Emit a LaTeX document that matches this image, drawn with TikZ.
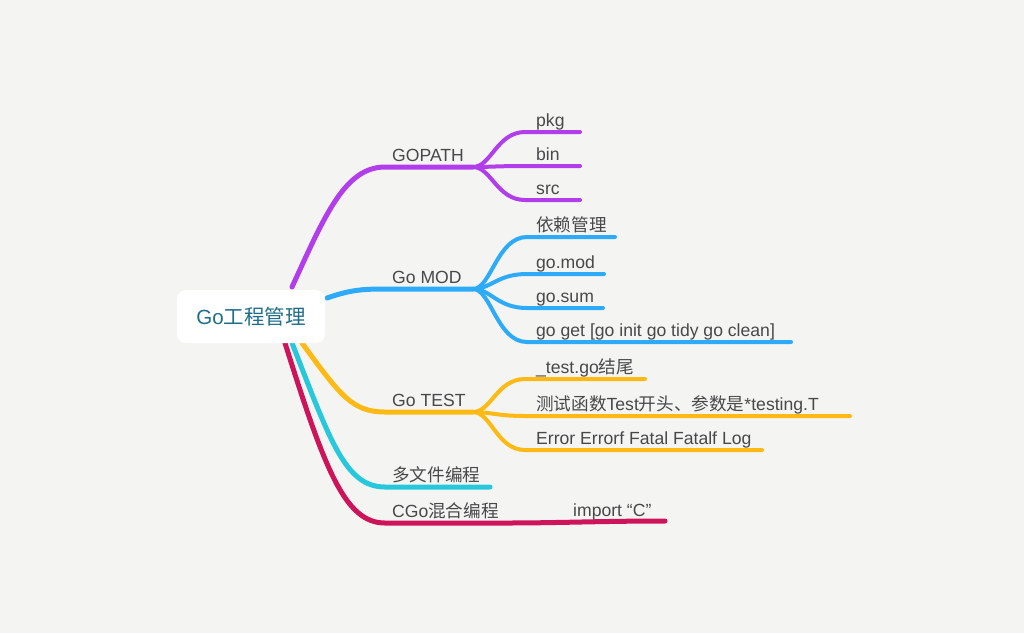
\documentclass[tikz,border=0pt]{standalone}
\usepackage{fontspec}
\setmainfont{Liberation Sans}
\newfontfamily\cjk{Noto Sans CJK SC}
\definecolor{bgc}{HTML}{F4F5F3}
\definecolor{cpur}{HTML}{B13DEB}
\definecolor{cblu}{HTML}{2DAAF8}
\definecolor{cyel}{HTML}{FDB914}
\definecolor{ccya}{HTML}{28C8DC}
\definecolor{ccri}{HTML}{CD145A}
\definecolor{txt}{HTML}{484848}
\definecolor{roottxt}{HTML}{1F6E88}
\begin{document}
\begin{tikzpicture}[x=1pt,y=-1pt,
  mainln/.style={line width=5pt,line cap=round},
  subln/.style={line width=4pt,line cap=round},
  lbl/.style={anchor=base west,inner sep=0pt,text=txt,font=\fontsize{17.6}{20}\selectfont},
  rootbox/.style={fill=white,rounded corners=9pt,minimum width=148pt,minimum height=53pt,inner sep=0pt,text=roottxt,font=\fontsize{20.5}{24}\selectfont}]
\fill[bgc] (0,0) rectangle (1024,633);
\useasboundingbox (0,0) rectangle (1024,633);
% branch points
\coordinate (rP) at (292,287);
\coordinate (rB) at (327,298);
\coordinate (rY) at (302,343);
\coordinate (rC) at (292,343);
\coordinate (rR) at (285,343);
\coordinate (bpP) at (473,167);
\coordinate (bpB) at (473,289);
\coordinate (bpY) at (473,412);
\coordinate (eC) at (490,487);
\coordinate (bpR) at (505,523);
% purple
\draw[mainln,cpur] (rP) .. controls (325,215) and (345,167) .. (385,167) -- (bpP);
\coordinate (pkgS) at (525,132); \coordinate (pkgE) at (580,132);
\coordinate (binS) at (525,166); \coordinate (binE) at (580,166);
\coordinate (srcS) at (525,200); \coordinate (srcE) at (580,200);
\draw[subln,cpur] (bpP) .. controls +(18,0) and +(-28,0) .. (pkgS) -- (pkgE);
\draw[subln,cpur] (bpP) .. controls +(18,0) and +(-28,0) .. (binS) -- (binE);
\draw[subln,cpur] (bpP) .. controls +(18,0) and +(-28,0) .. (srcS) -- (srcE);
% blue
\draw[mainln,cblu] (rB) .. controls (350,290) and (362,289) .. (385,289) -- (bpB);
\coordinate (b1S) at (527,237); \coordinate (b1E) at (615,237);
\coordinate (b2S) at (527,274); \coordinate (b2E) at (604,274);
\coordinate (b3S) at (527,308); \coordinate (b3E) at (603,308);
\coordinate (b4S) at (527,342); \coordinate (b4E) at (791,342);
\draw[subln,cblu] (bpB) .. controls +(18,0) and +(-30,0) .. (b1S) -- (b1E);
\draw[subln,cblu] (bpB) .. controls +(18,0) and +(-30,0) .. (b2S) -- (b2E);
\draw[subln,cblu] (bpB) .. controls +(18,0) and +(-30,0) .. (b3S) -- (b3E);
\draw[subln,cblu] (bpB) .. controls +(18,0) and +(-30,0) .. (b4S) -- (b4E);
% yellow
\draw[mainln,cyel] (rY) .. controls (340,395) and (352,412) .. (385,412) -- (bpY);
\coordinate (y1S) at (525,379); \coordinate (y1E) at (645,379);
\coordinate (y2S) at (525,416); \coordinate (y2E) at (850,416);
\coordinate (y3S) at (525,450); \coordinate (y3E) at (762,450);
\draw[subln,cyel] (bpY) .. controls +(18,0) and +(-28,0) .. (y1S) -- (y1E);
\draw[subln,cyel] (bpY) .. controls +(18,0) and +(-28,0) .. (y2S) -- (y2E);
\draw[subln,cyel] (bpY) .. controls +(18,0) and +(-28,0) .. (y3S) -- (y3E);
% cyan
\draw[mainln,ccya] (rC) .. controls (330,440) and (345,487) .. (385,487) -- (eC);
% crimson
\coordinate (iE) at (665,521);
\draw[mainln,ccri] (rR) .. controls (325,470) and (345,523) .. (385,523) -- (bpR) .. controls (560,523) and (600,521) .. (iE);
% root
\node[rootbox] (root) at (251,316.5) {Go{\cjk 工程管理}};
% labels
\node[lbl] (gopath) at (392,161) {GOPATH};
\node[lbl] (gomod) at (392,283) {Go MOD};
\node[lbl] (gotest) at (392,406) {Go TEST};
\node[lbl] (multi) at (392,481) {\cjk 多文件编程};
\node[lbl] (cgo) at (392,517) {CGo{\cjk 混合编程}};
\node[lbl] (pkg) at (536,126) {pkg};
\node[lbl] (bin) at (536,160) {bin};
\node[lbl] (src) at (536,194) {src};
\node[lbl] (dep) at (536,231) {\cjk 依赖管理};
\node[lbl] (gomodf) at (536,268) {go.mod};
\node[lbl] (gosum) at (536,302) {go.sum};
\node[lbl] (goget) at (536,336) {go get [go init go tidy go clean]};
\node[lbl] (tgo) at (536,373) {\_test.go{\cjk 结尾}};
\node[lbl] (tfn) at (536,410) {{\cjk 测试函数}Test{\cjk 开头、参数是}*testing.T};
\node[lbl] (terr) at (536,444) {Error Errorf Fatal Fatalf Log};
\node[lbl] (imp) at (573,516) {import “C”};
\end{tikzpicture}
\end{document}
